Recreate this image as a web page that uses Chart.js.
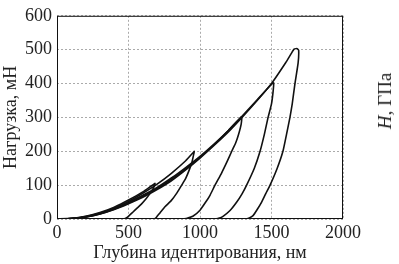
<!DOCTYPE html>
<html>
<head>
<meta charset="utf-8">
<script src="https://cdn.jsdelivr.net/npm/chart.js@4"></script>
<style>
  body { margin: 0; background: #fff; }
  #wrap { position: relative; width: 399px; height: 264px; }
  #side {
    position: absolute; left: 385px; top: 101px;
    transform: translate(-50%, -50%) rotate(-90deg);
    font: 19px "Liberation Serif", "Times New Roman", serif;
    white-space: nowrap; color: #222;
  }
</style>
</head>
<body>
<div id="wrap">
  <canvas id="loadChart" width="399" height="264"></canvas>
  <div id="side"><i>H</i>, ГПа</div>
</div>
<script>
// depth (nm) and load (mN) for each indentation, loading then unloading
const depth100 = [0, 100, 200, 300, 400, 500, 600, 685, 683, 670, 650, 620, 590, 560, 530, 505, 485, 470];
const load100  = [0, 2, 8, 19, 35, 56, 80, 105, 100, 88, 75, 58, 44, 32, 20, 10, 3, 0];

const depth200 = [0, 100, 200, 300, 400, 500, 600, 700, 800, 900, 950, 960, 958, 945, 925, 900, 872, 840, 800, 755, 720, 700, 690, 680];
const load200  = [0, 1, 7, 17, 32, 52, 76, 103, 135, 172, 195, 200, 195, 170, 145, 120, 100, 78, 55, 36, 18, 8, 3, 0];

const depth300 = [0, 100, 200, 300, 400, 500, 600, 700, 800, 900, 1000, 1100, 1200, 1291, 1288, 1270, 1250, 1222, 1190, 1150, 1105, 1070, 1040, 1000, 950, 910, 885];
const load300  = [0, 1, 6, 16, 30, 49, 70, 93, 121, 152, 185, 222, 262, 302, 280, 250, 225, 200, 170, 135, 100, 70, 50, 26, 8, 2, 0];

const depth400 = [0, 100, 200, 300, 400, 500, 600, 700, 800, 900, 1000, 1100, 1200, 1300, 1400, 1500, 1515, 1512, 1500, 1476, 1450, 1420, 1380, 1326, 1295, 1257, 1210, 1161, 1130, 1110];
const load400  = [0, 1, 6, 15, 29, 47, 67, 90, 117, 148, 182, 220, 262, 306, 352, 398, 402, 380, 340, 300, 250, 200, 150, 100, 75, 50, 25, 8, 2, 0];

const depth500 = [0, 100, 200, 300, 400, 500, 600, 700, 800, 900, 1000, 1100, 1200, 1300, 1400, 1500, 1600, 1640, 1660, 1680, 1690, 1686, 1664, 1645, 1629, 1605, 1580, 1540, 1490, 1460, 1431, 1400, 1371, 1345, 1326];
const load500  = [0, 1, 6, 15, 28, 45, 64, 87, 113, 145, 180, 218, 258, 303, 350, 400, 462, 490, 502, 503, 498, 460, 400, 340, 300, 250, 200, 150, 100, 75, 50, 28, 10, 3, 0];

const xTicks = [0, 500, 1000, 1500, 2000];
const yTicks = [0, 100, 200, 300, 400, 500, 600];

const tests = [
  [depth100, load100],
  [depth200, load200],
  [depth300, load300],
  [depth400, load400],
  [depth500, load500]
];

const serif = '"Liberation Serif", "Times New Roman", serif';

const datasets = tests.map(function (t) {
  return {
    data: t[0].map(function (h, i) { return { x: h, y: t[1][i] }; }),
    showLine: true,
    borderColor: '#111',
    borderWidth: 1.6,
    pointRadius: 0,
    tension: 0.15,
    fill: false
  };
});

const ctx = document.getElementById('loadChart').getContext('2d');
const loadChart = new Chart(ctx, {
  type: 'scatter',
  data: { datasets: datasets },
  options: {
    responsive: false,
    animation: false,
    layout: { padding: { top: 13, right: 56, left: 0, bottom: 0 } },
    plugins: { legend: { display: false }, tooltip: { enabled: false } },
    scales: {
      x: {
        min: 0, max: 2000,
        afterBuildTicks: function (axis) { axis.ticks = xTicks.map(function (v) { return { value: v }; }); },
        afterFit: function (axis) { axis.height = 45; },
        grid: { color: '#aaa', lineWidth: 1, drawTicks: false },
        border: { display: false, dash: [2, 2] },
        ticks: { color: '#222', padding: 3, maxRotation: 0, font: { family: serif, size: 18 },
                 callback: function (v) { return String(v); } },
        title: { display: true, text: 'Глубина идентирования, нм', color: '#222', padding: 0, font: { family: serif, size: 18 } }
      },
      y: {
        min: 0, max: 600,
        afterBuildTicks: function (axis) { axis.ticks = yTicks.map(function (v) { return { value: v }; }); },
        afterFit: function (axis) { axis.width = 57; },
        grid: { color: '#aaa', lineWidth: 1, drawTicks: false },
        border: { display: false, dash: [2, 2] },
        ticks: { color: '#222', padding: 5, font: { family: serif, size: 18 },
                 callback: function (v) { return String(v); } },
        title: { display: true, text: 'Нагрузка, мН', color: '#222', padding: 0, font: { family: serif, size: 18 } }
      }
    }
  },
  plugins: [{
    id: 'frame',
    afterDatasetsDraw: function (chart) {
      const a = chart.chartArea;
      const c = chart.ctx;
      c.save();
      c.strokeStyle = '#111';
      c.lineWidth = 1;
      c.strokeRect(a.left + 0.5, a.top + 0.5, a.right - a.left - 1, a.bottom - a.top - 1);
      c.restore();
    }
  }]
});
</script>
</body>
</html>
